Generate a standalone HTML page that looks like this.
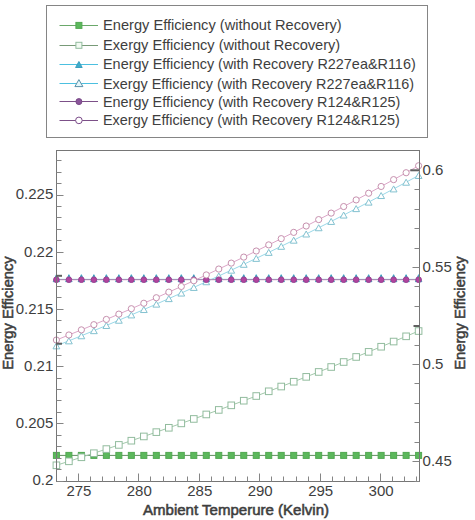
<!DOCTYPE html><html><head><meta charset="utf-8"><style>html,body{margin:0;padding:0;background:#fff;width:475px;height:520px;overflow:hidden}svg{display:block;font-family:"Liberation Sans",sans-serif}</style></head><body><svg width="475" height="520" viewBox="0 0 475 520">
<rect width="475" height="520" fill="#ffffff"/>
<polyline points="56.40,455.40 68.89,455.40 81.38,455.40 93.87,455.40 106.36,455.40 118.85,455.40 131.34,455.40 143.83,455.40 156.32,455.40 168.81,455.40 181.30,455.40 193.79,455.40 206.28,455.40 218.77,455.40 231.26,455.40 243.75,455.40 256.24,455.40 268.73,455.40 281.22,455.40 293.71,455.40 306.20,455.40 318.69,455.40 331.18,455.40 343.67,455.40 356.16,455.40 368.65,455.40 381.14,455.40 393.63,455.40 406.12,455.40 418.61,455.40" fill="none" stroke="#5f8f5f" stroke-width="1"/><rect x="53.40" y="452.40" width="6" height="6" fill="#5cb85c" stroke="#52a852" stroke-width="1"/><rect x="65.89" y="452.40" width="6" height="6" fill="#5cb85c" stroke="#52a852" stroke-width="1"/><rect x="78.38" y="452.40" width="6" height="6" fill="#5cb85c" stroke="#52a852" stroke-width="1"/><rect x="90.87" y="452.40" width="6" height="6" fill="#5cb85c" stroke="#52a852" stroke-width="1"/><rect x="103.36" y="452.40" width="6" height="6" fill="#5cb85c" stroke="#52a852" stroke-width="1"/><rect x="115.85" y="452.40" width="6" height="6" fill="#5cb85c" stroke="#52a852" stroke-width="1"/><rect x="128.34" y="452.40" width="6" height="6" fill="#5cb85c" stroke="#52a852" stroke-width="1"/><rect x="140.83" y="452.40" width="6" height="6" fill="#5cb85c" stroke="#52a852" stroke-width="1"/><rect x="153.32" y="452.40" width="6" height="6" fill="#5cb85c" stroke="#52a852" stroke-width="1"/><rect x="165.81" y="452.40" width="6" height="6" fill="#5cb85c" stroke="#52a852" stroke-width="1"/><rect x="178.30" y="452.40" width="6" height="6" fill="#5cb85c" stroke="#52a852" stroke-width="1"/><rect x="190.79" y="452.40" width="6" height="6" fill="#5cb85c" stroke="#52a852" stroke-width="1"/><rect x="203.28" y="452.40" width="6" height="6" fill="#5cb85c" stroke="#52a852" stroke-width="1"/><rect x="215.77" y="452.40" width="6" height="6" fill="#5cb85c" stroke="#52a852" stroke-width="1"/><rect x="228.26" y="452.40" width="6" height="6" fill="#5cb85c" stroke="#52a852" stroke-width="1"/><rect x="240.75" y="452.40" width="6" height="6" fill="#5cb85c" stroke="#52a852" stroke-width="1"/><rect x="253.24" y="452.40" width="6" height="6" fill="#5cb85c" stroke="#52a852" stroke-width="1"/><rect x="265.73" y="452.40" width="6" height="6" fill="#5cb85c" stroke="#52a852" stroke-width="1"/><rect x="278.22" y="452.40" width="6" height="6" fill="#5cb85c" stroke="#52a852" stroke-width="1"/><rect x="290.71" y="452.40" width="6" height="6" fill="#5cb85c" stroke="#52a852" stroke-width="1"/><rect x="303.20" y="452.40" width="6" height="6" fill="#5cb85c" stroke="#52a852" stroke-width="1"/><rect x="315.69" y="452.40" width="6" height="6" fill="#5cb85c" stroke="#52a852" stroke-width="1"/><rect x="328.18" y="452.40" width="6" height="6" fill="#5cb85c" stroke="#52a852" stroke-width="1"/><rect x="340.67" y="452.40" width="6" height="6" fill="#5cb85c" stroke="#52a852" stroke-width="1"/><rect x="353.16" y="452.40" width="6" height="6" fill="#5cb85c" stroke="#52a852" stroke-width="1"/><rect x="365.65" y="452.40" width="6" height="6" fill="#5cb85c" stroke="#52a852" stroke-width="1"/><rect x="378.14" y="452.40" width="6" height="6" fill="#5cb85c" stroke="#52a852" stroke-width="1"/><rect x="390.63" y="452.40" width="6" height="6" fill="#5cb85c" stroke="#52a852" stroke-width="1"/><rect x="403.12" y="452.40" width="6" height="6" fill="#5cb85c" stroke="#52a852" stroke-width="1"/><rect x="415.61" y="452.40" width="6" height="6" fill="#5cb85c" stroke="#52a852" stroke-width="1"/>
<polyline points="56.40,465.29 68.89,461.31 81.38,457.28 93.87,453.20 106.36,449.08 118.85,444.91 131.34,440.70 143.83,436.44 156.32,432.13 168.81,427.78 181.30,423.38 193.79,418.94 206.28,414.45 218.77,409.91 231.26,405.33 243.75,400.70 256.24,396.02 268.73,391.30 281.22,386.53 293.71,381.72 306.20,376.86 318.69,371.95 331.18,367.00 343.67,362.00 356.16,356.96 368.65,351.87 381.14,346.73 393.63,341.55 406.12,336.32 418.61,331.04" fill="none" stroke="#a2c8aa" stroke-width="1"/><rect x="53.10" y="461.99" width="6.6" height="6.6" fill="#ffffff" stroke="#92bc9e" stroke-width="1"/><rect x="65.59" y="458.01" width="6.6" height="6.6" fill="#ffffff" stroke="#92bc9e" stroke-width="1"/><rect x="78.08" y="453.98" width="6.6" height="6.6" fill="#ffffff" stroke="#92bc9e" stroke-width="1"/><rect x="90.57" y="449.90" width="6.6" height="6.6" fill="#ffffff" stroke="#92bc9e" stroke-width="1"/><rect x="103.06" y="445.78" width="6.6" height="6.6" fill="#ffffff" stroke="#92bc9e" stroke-width="1"/><rect x="115.55" y="441.61" width="6.6" height="6.6" fill="#ffffff" stroke="#92bc9e" stroke-width="1"/><rect x="128.04" y="437.40" width="6.6" height="6.6" fill="#ffffff" stroke="#92bc9e" stroke-width="1"/><rect x="140.53" y="433.14" width="6.6" height="6.6" fill="#ffffff" stroke="#92bc9e" stroke-width="1"/><rect x="153.02" y="428.83" width="6.6" height="6.6" fill="#ffffff" stroke="#92bc9e" stroke-width="1"/><rect x="165.51" y="424.48" width="6.6" height="6.6" fill="#ffffff" stroke="#92bc9e" stroke-width="1"/><rect x="178.00" y="420.08" width="6.6" height="6.6" fill="#ffffff" stroke="#92bc9e" stroke-width="1"/><rect x="190.49" y="415.64" width="6.6" height="6.6" fill="#ffffff" stroke="#92bc9e" stroke-width="1"/><rect x="202.98" y="411.15" width="6.6" height="6.6" fill="#ffffff" stroke="#92bc9e" stroke-width="1"/><rect x="215.47" y="406.61" width="6.6" height="6.6" fill="#ffffff" stroke="#92bc9e" stroke-width="1"/><rect x="227.96" y="402.03" width="6.6" height="6.6" fill="#ffffff" stroke="#92bc9e" stroke-width="1"/><rect x="240.45" y="397.40" width="6.6" height="6.6" fill="#ffffff" stroke="#92bc9e" stroke-width="1"/><rect x="252.94" y="392.72" width="6.6" height="6.6" fill="#ffffff" stroke="#92bc9e" stroke-width="1"/><rect x="265.43" y="388.00" width="6.6" height="6.6" fill="#ffffff" stroke="#92bc9e" stroke-width="1"/><rect x="277.92" y="383.23" width="6.6" height="6.6" fill="#ffffff" stroke="#92bc9e" stroke-width="1"/><rect x="290.41" y="378.42" width="6.6" height="6.6" fill="#ffffff" stroke="#92bc9e" stroke-width="1"/><rect x="302.90" y="373.56" width="6.6" height="6.6" fill="#ffffff" stroke="#92bc9e" stroke-width="1"/><rect x="315.39" y="368.65" width="6.6" height="6.6" fill="#ffffff" stroke="#92bc9e" stroke-width="1"/><rect x="327.88" y="363.70" width="6.6" height="6.6" fill="#ffffff" stroke="#92bc9e" stroke-width="1"/><rect x="340.37" y="358.70" width="6.6" height="6.6" fill="#ffffff" stroke="#92bc9e" stroke-width="1"/><rect x="352.86" y="353.66" width="6.6" height="6.6" fill="#ffffff" stroke="#92bc9e" stroke-width="1"/><rect x="365.35" y="348.57" width="6.6" height="6.6" fill="#ffffff" stroke="#92bc9e" stroke-width="1"/><rect x="377.84" y="343.43" width="6.6" height="6.6" fill="#ffffff" stroke="#92bc9e" stroke-width="1"/><rect x="390.33" y="338.25" width="6.6" height="6.6" fill="#ffffff" stroke="#92bc9e" stroke-width="1"/><rect x="402.82" y="333.02" width="6.6" height="6.6" fill="#ffffff" stroke="#92bc9e" stroke-width="1"/><rect x="415.31" y="327.74" width="6.6" height="6.6" fill="#ffffff" stroke="#92bc9e" stroke-width="1"/>
<polyline points="56.40,279.40 68.89,279.40 81.38,279.40 93.87,279.40 106.36,279.40 118.85,279.40 131.34,279.40 143.83,279.40 156.32,279.40 168.81,279.40 181.30,279.40 193.79,279.40 206.28,279.40 218.77,279.40 231.26,279.40 243.75,279.40 256.24,279.40 268.73,279.40 281.22,279.40 293.71,279.40 306.20,279.40 318.69,279.40 331.18,279.40 343.67,279.40 356.16,279.40 368.65,279.40 381.14,279.40 393.63,279.40 406.12,279.40 418.61,279.40" fill="none" stroke="#48b4d2" stroke-width="1"/><path d="M56.40,274.70 L59.60,281.70 L53.20,281.70 Z" fill="#40acca" stroke="#3a9fbf" stroke-width="1" stroke-linejoin="miter"/><path d="M68.89,274.70 L72.09,281.70 L65.69,281.70 Z" fill="#40acca" stroke="#3a9fbf" stroke-width="1" stroke-linejoin="miter"/><path d="M81.38,274.70 L84.58,281.70 L78.18,281.70 Z" fill="#40acca" stroke="#3a9fbf" stroke-width="1" stroke-linejoin="miter"/><path d="M93.87,274.70 L97.07,281.70 L90.67,281.70 Z" fill="#40acca" stroke="#3a9fbf" stroke-width="1" stroke-linejoin="miter"/><path d="M106.36,274.70 L109.56,281.70 L103.16,281.70 Z" fill="#40acca" stroke="#3a9fbf" stroke-width="1" stroke-linejoin="miter"/><path d="M118.85,274.70 L122.05,281.70 L115.65,281.70 Z" fill="#40acca" stroke="#3a9fbf" stroke-width="1" stroke-linejoin="miter"/><path d="M131.34,274.70 L134.54,281.70 L128.14,281.70 Z" fill="#40acca" stroke="#3a9fbf" stroke-width="1" stroke-linejoin="miter"/><path d="M143.83,274.70 L147.03,281.70 L140.63,281.70 Z" fill="#40acca" stroke="#3a9fbf" stroke-width="1" stroke-linejoin="miter"/><path d="M156.32,274.70 L159.52,281.70 L153.12,281.70 Z" fill="#40acca" stroke="#3a9fbf" stroke-width="1" stroke-linejoin="miter"/><path d="M168.81,274.70 L172.01,281.70 L165.61,281.70 Z" fill="#40acca" stroke="#3a9fbf" stroke-width="1" stroke-linejoin="miter"/><path d="M181.30,274.70 L184.50,281.70 L178.10,281.70 Z" fill="#40acca" stroke="#3a9fbf" stroke-width="1" stroke-linejoin="miter"/><path d="M193.79,274.70 L196.99,281.70 L190.59,281.70 Z" fill="#40acca" stroke="#3a9fbf" stroke-width="1" stroke-linejoin="miter"/><path d="M206.28,274.70 L209.48,281.70 L203.08,281.70 Z" fill="#40acca" stroke="#3a9fbf" stroke-width="1" stroke-linejoin="miter"/><path d="M218.77,274.70 L221.97,281.70 L215.57,281.70 Z" fill="#40acca" stroke="#3a9fbf" stroke-width="1" stroke-linejoin="miter"/><path d="M231.26,274.70 L234.46,281.70 L228.06,281.70 Z" fill="#40acca" stroke="#3a9fbf" stroke-width="1" stroke-linejoin="miter"/><path d="M243.75,274.70 L246.95,281.70 L240.55,281.70 Z" fill="#40acca" stroke="#3a9fbf" stroke-width="1" stroke-linejoin="miter"/><path d="M256.24,274.70 L259.44,281.70 L253.04,281.70 Z" fill="#40acca" stroke="#3a9fbf" stroke-width="1" stroke-linejoin="miter"/><path d="M268.73,274.70 L271.93,281.70 L265.53,281.70 Z" fill="#40acca" stroke="#3a9fbf" stroke-width="1" stroke-linejoin="miter"/><path d="M281.22,274.70 L284.42,281.70 L278.02,281.70 Z" fill="#40acca" stroke="#3a9fbf" stroke-width="1" stroke-linejoin="miter"/><path d="M293.71,274.70 L296.91,281.70 L290.51,281.70 Z" fill="#40acca" stroke="#3a9fbf" stroke-width="1" stroke-linejoin="miter"/><path d="M306.20,274.70 L309.40,281.70 L303.00,281.70 Z" fill="#40acca" stroke="#3a9fbf" stroke-width="1" stroke-linejoin="miter"/><path d="M318.69,274.70 L321.89,281.70 L315.49,281.70 Z" fill="#40acca" stroke="#3a9fbf" stroke-width="1" stroke-linejoin="miter"/><path d="M331.18,274.70 L334.38,281.70 L327.98,281.70 Z" fill="#40acca" stroke="#3a9fbf" stroke-width="1" stroke-linejoin="miter"/><path d="M343.67,274.70 L346.87,281.70 L340.47,281.70 Z" fill="#40acca" stroke="#3a9fbf" stroke-width="1" stroke-linejoin="miter"/><path d="M356.16,274.70 L359.36,281.70 L352.96,281.70 Z" fill="#40acca" stroke="#3a9fbf" stroke-width="1" stroke-linejoin="miter"/><path d="M368.65,274.70 L371.85,281.70 L365.45,281.70 Z" fill="#40acca" stroke="#3a9fbf" stroke-width="1" stroke-linejoin="miter"/><path d="M381.14,274.70 L384.34,281.70 L377.94,281.70 Z" fill="#40acca" stroke="#3a9fbf" stroke-width="1" stroke-linejoin="miter"/><path d="M393.63,274.70 L396.83,281.70 L390.43,281.70 Z" fill="#40acca" stroke="#3a9fbf" stroke-width="1" stroke-linejoin="miter"/><path d="M406.12,274.70 L409.32,281.70 L402.92,281.70 Z" fill="#40acca" stroke="#3a9fbf" stroke-width="1" stroke-linejoin="miter"/><path d="M418.61,274.70 L421.81,281.70 L415.41,281.70 Z" fill="#40acca" stroke="#3a9fbf" stroke-width="1" stroke-linejoin="miter"/>
<polyline points="56.40,345.83 68.89,340.84 81.38,335.78 93.87,330.66 106.36,325.47 118.85,320.23 131.34,314.92 143.83,309.54 156.32,304.11 168.81,298.61 181.30,293.05 193.79,287.43 206.28,281.74 218.77,275.99 231.26,270.18 243.75,264.31 256.24,258.37 268.73,252.37 281.22,246.31 293.71,240.18 306.20,233.99 318.69,227.74 331.18,221.43 343.67,215.05 356.16,208.61 368.65,202.11 381.14,195.54 393.63,188.92 406.12,182.23 418.61,175.47" fill="none" stroke="#9ad8e8" stroke-width="1"/><path d="M56.40,342.83 L59.80,348.83 L53.00,348.83 Z" fill="#ffffff" stroke="#84c2d0" stroke-width="1" stroke-linejoin="miter"/><path d="M68.89,337.84 L72.29,343.84 L65.49,343.84 Z" fill="#ffffff" stroke="#84c2d0" stroke-width="1" stroke-linejoin="miter"/><path d="M81.38,332.78 L84.78,338.78 L77.98,338.78 Z" fill="#ffffff" stroke="#84c2d0" stroke-width="1" stroke-linejoin="miter"/><path d="M93.87,327.66 L97.27,333.66 L90.47,333.66 Z" fill="#ffffff" stroke="#84c2d0" stroke-width="1" stroke-linejoin="miter"/><path d="M106.36,322.47 L109.76,328.47 L102.96,328.47 Z" fill="#ffffff" stroke="#84c2d0" stroke-width="1" stroke-linejoin="miter"/><path d="M118.85,317.23 L122.25,323.23 L115.45,323.23 Z" fill="#ffffff" stroke="#84c2d0" stroke-width="1" stroke-linejoin="miter"/><path d="M131.34,311.92 L134.74,317.92 L127.94,317.92 Z" fill="#ffffff" stroke="#84c2d0" stroke-width="1" stroke-linejoin="miter"/><path d="M143.83,306.54 L147.23,312.54 L140.43,312.54 Z" fill="#ffffff" stroke="#84c2d0" stroke-width="1" stroke-linejoin="miter"/><path d="M156.32,301.11 L159.72,307.11 L152.92,307.11 Z" fill="#ffffff" stroke="#84c2d0" stroke-width="1" stroke-linejoin="miter"/><path d="M168.81,295.61 L172.21,301.61 L165.41,301.61 Z" fill="#ffffff" stroke="#84c2d0" stroke-width="1" stroke-linejoin="miter"/><path d="M181.30,290.05 L184.70,296.05 L177.90,296.05 Z" fill="#ffffff" stroke="#84c2d0" stroke-width="1" stroke-linejoin="miter"/><path d="M193.79,284.43 L197.19,290.43 L190.39,290.43 Z" fill="#ffffff" stroke="#84c2d0" stroke-width="1" stroke-linejoin="miter"/><path d="M206.28,278.74 L209.68,284.74 L202.88,284.74 Z" fill="#ffffff" stroke="#84c2d0" stroke-width="1" stroke-linejoin="miter"/><path d="M218.77,272.99 L222.17,278.99 L215.37,278.99 Z" fill="#ffffff" stroke="#84c2d0" stroke-width="1" stroke-linejoin="miter"/><path d="M231.26,267.18 L234.66,273.18 L227.86,273.18 Z" fill="#ffffff" stroke="#84c2d0" stroke-width="1" stroke-linejoin="miter"/><path d="M243.75,261.31 L247.15,267.31 L240.35,267.31 Z" fill="#ffffff" stroke="#84c2d0" stroke-width="1" stroke-linejoin="miter"/><path d="M256.24,255.37 L259.64,261.37 L252.84,261.37 Z" fill="#ffffff" stroke="#84c2d0" stroke-width="1" stroke-linejoin="miter"/><path d="M268.73,249.37 L272.13,255.37 L265.33,255.37 Z" fill="#ffffff" stroke="#84c2d0" stroke-width="1" stroke-linejoin="miter"/><path d="M281.22,243.31 L284.62,249.31 L277.82,249.31 Z" fill="#ffffff" stroke="#84c2d0" stroke-width="1" stroke-linejoin="miter"/><path d="M293.71,237.18 L297.11,243.18 L290.31,243.18 Z" fill="#ffffff" stroke="#84c2d0" stroke-width="1" stroke-linejoin="miter"/><path d="M306.20,230.99 L309.60,236.99 L302.80,236.99 Z" fill="#ffffff" stroke="#84c2d0" stroke-width="1" stroke-linejoin="miter"/><path d="M318.69,224.74 L322.09,230.74 L315.29,230.74 Z" fill="#ffffff" stroke="#84c2d0" stroke-width="1" stroke-linejoin="miter"/><path d="M331.18,218.43 L334.58,224.43 L327.78,224.43 Z" fill="#ffffff" stroke="#84c2d0" stroke-width="1" stroke-linejoin="miter"/><path d="M343.67,212.05 L347.07,218.05 L340.27,218.05 Z" fill="#ffffff" stroke="#84c2d0" stroke-width="1" stroke-linejoin="miter"/><path d="M356.16,205.61 L359.56,211.61 L352.76,211.61 Z" fill="#ffffff" stroke="#84c2d0" stroke-width="1" stroke-linejoin="miter"/><path d="M368.65,199.11 L372.05,205.11 L365.25,205.11 Z" fill="#ffffff" stroke="#84c2d0" stroke-width="1" stroke-linejoin="miter"/><path d="M381.14,192.54 L384.54,198.54 L377.74,198.54 Z" fill="#ffffff" stroke="#84c2d0" stroke-width="1" stroke-linejoin="miter"/><path d="M393.63,185.92 L397.03,191.92 L390.23,191.92 Z" fill="#ffffff" stroke="#84c2d0" stroke-width="1" stroke-linejoin="miter"/><path d="M406.12,179.23 L409.52,185.23 L402.72,185.23 Z" fill="#ffffff" stroke="#84c2d0" stroke-width="1" stroke-linejoin="miter"/><path d="M418.61,172.47 L422.01,178.47 L415.21,178.47 Z" fill="#ffffff" stroke="#84c2d0" stroke-width="1" stroke-linejoin="miter"/>
<polyline points="56.40,279.70 68.89,279.70 81.38,279.70 93.87,279.70 106.36,279.70 118.85,279.70 131.34,279.70 143.83,279.70 156.32,279.70 168.81,279.70 181.30,279.70 193.79,279.70 206.28,279.70 218.77,279.70 231.26,279.70 243.75,279.70 256.24,279.70 268.73,279.70 281.22,279.70 293.71,279.70 306.20,279.70 318.69,279.70 331.18,279.70 343.67,279.70 356.16,279.70 368.65,279.70 381.14,279.70 393.63,279.70 406.12,279.70 418.61,279.70" fill="none" stroke="#b884ae" stroke-width="1"/><circle cx="56.40" cy="279.70" r="2.8" fill="#b0449f" stroke="#9a4090" stroke-width="1"/><circle cx="68.89" cy="279.70" r="2.8" fill="#b0449f" stroke="#9a4090" stroke-width="1"/><circle cx="81.38" cy="279.70" r="2.8" fill="#b0449f" stroke="#9a4090" stroke-width="1"/><circle cx="93.87" cy="279.70" r="2.8" fill="#b0449f" stroke="#9a4090" stroke-width="1"/><circle cx="106.36" cy="279.70" r="2.8" fill="#b0449f" stroke="#9a4090" stroke-width="1"/><circle cx="118.85" cy="279.70" r="2.8" fill="#b0449f" stroke="#9a4090" stroke-width="1"/><circle cx="131.34" cy="279.70" r="2.8" fill="#b0449f" stroke="#9a4090" stroke-width="1"/><circle cx="143.83" cy="279.70" r="2.8" fill="#b0449f" stroke="#9a4090" stroke-width="1"/><circle cx="156.32" cy="279.70" r="2.8" fill="#b0449f" stroke="#9a4090" stroke-width="1"/><circle cx="168.81" cy="279.70" r="2.8" fill="#b0449f" stroke="#9a4090" stroke-width="1"/><circle cx="181.30" cy="279.70" r="2.8" fill="#b0449f" stroke="#9a4090" stroke-width="1"/><circle cx="193.79" cy="279.70" r="2.8" fill="#b0449f" stroke="#9a4090" stroke-width="1"/><circle cx="206.28" cy="279.70" r="2.8" fill="#b0449f" stroke="#9a4090" stroke-width="1"/><circle cx="218.77" cy="279.70" r="2.8" fill="#b0449f" stroke="#9a4090" stroke-width="1"/><circle cx="231.26" cy="279.70" r="2.8" fill="#b0449f" stroke="#9a4090" stroke-width="1"/><circle cx="243.75" cy="279.70" r="2.8" fill="#b0449f" stroke="#9a4090" stroke-width="1"/><circle cx="256.24" cy="279.70" r="2.8" fill="#b0449f" stroke="#9a4090" stroke-width="1"/><circle cx="268.73" cy="279.70" r="2.8" fill="#b0449f" stroke="#9a4090" stroke-width="1"/><circle cx="281.22" cy="279.70" r="2.8" fill="#b0449f" stroke="#9a4090" stroke-width="1"/><circle cx="293.71" cy="279.70" r="2.8" fill="#b0449f" stroke="#9a4090" stroke-width="1"/><circle cx="306.20" cy="279.70" r="2.8" fill="#b0449f" stroke="#9a4090" stroke-width="1"/><circle cx="318.69" cy="279.70" r="2.8" fill="#b0449f" stroke="#9a4090" stroke-width="1"/><circle cx="331.18" cy="279.70" r="2.8" fill="#b0449f" stroke="#9a4090" stroke-width="1"/><circle cx="343.67" cy="279.70" r="2.8" fill="#b0449f" stroke="#9a4090" stroke-width="1"/><circle cx="356.16" cy="279.70" r="2.8" fill="#b0449f" stroke="#9a4090" stroke-width="1"/><circle cx="368.65" cy="279.70" r="2.8" fill="#b0449f" stroke="#9a4090" stroke-width="1"/><circle cx="381.14" cy="279.70" r="2.8" fill="#b0449f" stroke="#9a4090" stroke-width="1"/><circle cx="393.63" cy="279.70" r="2.8" fill="#b0449f" stroke="#9a4090" stroke-width="1"/><circle cx="406.12" cy="279.70" r="2.8" fill="#b0449f" stroke="#9a4090" stroke-width="1"/><circle cx="418.61" cy="279.70" r="2.8" fill="#b0449f" stroke="#9a4090" stroke-width="1"/>
<polyline points="56.40,340.03 68.89,334.98 81.38,329.87 93.87,324.68 106.36,319.43 118.85,314.11 131.34,308.71 143.83,303.25 156.32,297.73 168.81,292.13 181.30,286.46 193.79,280.73 206.28,274.92 218.77,269.05 231.26,263.11 243.75,257.10 256.24,251.02 268.73,244.88 281.22,238.66 293.71,232.38 306.20,226.02 318.69,219.60 331.18,213.11 343.67,206.55 356.16,199.93 368.65,193.23 381.14,186.46 393.63,179.63 406.12,172.73 418.61,165.76" fill="none" stroke="#dca6c8" stroke-width="1"/><circle cx="56.40" cy="340.03" r="3.1" fill="#ffffff" stroke="#c690ae" stroke-width="1"/><circle cx="68.89" cy="334.98" r="3.1" fill="#ffffff" stroke="#c690ae" stroke-width="1"/><circle cx="81.38" cy="329.87" r="3.1" fill="#ffffff" stroke="#c690ae" stroke-width="1"/><circle cx="93.87" cy="324.68" r="3.1" fill="#ffffff" stroke="#c690ae" stroke-width="1"/><circle cx="106.36" cy="319.43" r="3.1" fill="#ffffff" stroke="#c690ae" stroke-width="1"/><circle cx="118.85" cy="314.11" r="3.1" fill="#ffffff" stroke="#c690ae" stroke-width="1"/><circle cx="131.34" cy="308.71" r="3.1" fill="#ffffff" stroke="#c690ae" stroke-width="1"/><circle cx="143.83" cy="303.25" r="3.1" fill="#ffffff" stroke="#c690ae" stroke-width="1"/><circle cx="156.32" cy="297.73" r="3.1" fill="#ffffff" stroke="#c690ae" stroke-width="1"/><circle cx="168.81" cy="292.13" r="3.1" fill="#ffffff" stroke="#c690ae" stroke-width="1"/><circle cx="181.30" cy="286.46" r="3.1" fill="#ffffff" stroke="#c690ae" stroke-width="1"/><circle cx="193.79" cy="280.73" r="3.1" fill="#ffffff" stroke="#c690ae" stroke-width="1"/><circle cx="206.28" cy="274.92" r="3.1" fill="#ffffff" stroke="#c690ae" stroke-width="1"/><circle cx="218.77" cy="269.05" r="3.1" fill="#ffffff" stroke="#c690ae" stroke-width="1"/><circle cx="231.26" cy="263.11" r="3.1" fill="#ffffff" stroke="#c690ae" stroke-width="1"/><circle cx="243.75" cy="257.10" r="3.1" fill="#ffffff" stroke="#c690ae" stroke-width="1"/><circle cx="256.24" cy="251.02" r="3.1" fill="#ffffff" stroke="#c690ae" stroke-width="1"/><circle cx="268.73" cy="244.88" r="3.1" fill="#ffffff" stroke="#c690ae" stroke-width="1"/><circle cx="281.22" cy="238.66" r="3.1" fill="#ffffff" stroke="#c690ae" stroke-width="1"/><circle cx="293.71" cy="232.38" r="3.1" fill="#ffffff" stroke="#c690ae" stroke-width="1"/><circle cx="306.20" cy="226.02" r="3.1" fill="#ffffff" stroke="#c690ae" stroke-width="1"/><circle cx="318.69" cy="219.60" r="3.1" fill="#ffffff" stroke="#c690ae" stroke-width="1"/><circle cx="331.18" cy="213.11" r="3.1" fill="#ffffff" stroke="#c690ae" stroke-width="1"/><circle cx="343.67" cy="206.55" r="3.1" fill="#ffffff" stroke="#c690ae" stroke-width="1"/><circle cx="356.16" cy="199.93" r="3.1" fill="#ffffff" stroke="#c690ae" stroke-width="1"/><circle cx="368.65" cy="193.23" r="3.1" fill="#ffffff" stroke="#c690ae" stroke-width="1"/><circle cx="381.14" cy="186.46" r="3.1" fill="#ffffff" stroke="#c690ae" stroke-width="1"/><circle cx="393.63" cy="179.63" r="3.1" fill="#ffffff" stroke="#c690ae" stroke-width="1"/><circle cx="406.12" cy="172.73" r="3.1" fill="#ffffff" stroke="#c690ae" stroke-width="1"/><circle cx="418.61" cy="165.76" r="3.1" fill="#ffffff" stroke="#c690ae" stroke-width="1"/>
<rect x="56.5" y="150.5" width="363.0" height="331.0" fill="none" stroke="#767676" stroke-width="1"/>
<path d="M66.5,481.5 V476.5 M78.5,481.5 V473.5 M90.5,481.5 V476.5 M102.5,481.5 V476.5 M114.5,481.5 V476.5 M126.5,481.5 V476.5 M138.5,481.5 V473.5 M150.5,481.5 V476.5 M163.5,481.5 V476.5 M175.5,481.5 V476.5 M187.5,481.5 V476.5 M199.5,481.5 V473.5 M211.5,481.5 V476.5 M223.5,481.5 V476.5 M235.5,481.5 V476.5 M247.5,481.5 V476.5 M259.5,481.5 V473.5 M271.5,481.5 V476.5 M283.5,481.5 V476.5 M296.5,481.5 V476.5 M308.5,481.5 V476.5 M320.5,481.5 V473.5 M332.5,481.5 V476.5 M344.5,481.5 V476.5 M356.5,481.5 V476.5 M368.5,481.5 V476.5 M380.5,481.5 V473.5 M392.5,481.5 V476.5 M404.5,481.5 V476.5 M416.5,481.5 V476.5 M56.5,481.5 H63.5 M56.5,469.5 H61.5 M56.5,458.5 H61.5 M56.5,446.5 H61.5 M56.5,435.5 H61.5 M56.5,423.5 H63.5 M56.5,412.5 H61.5 M56.5,400.5 H61.5 M56.5,389.5 H61.5 M56.5,378.5 H61.5 M56.5,366.5 H63.5 M56.5,355.5 H61.5 M56.5,343.5 H61.5 M56.5,332.5 H61.5 M56.5,320.5 H61.5 M56.5,309.5 H63.5 M56.5,297.5 H61.5 M56.5,286.5 H61.5 M56.5,275.5 H61.5 M56.5,263.5 H61.5 M56.5,252.5 H63.5 M56.5,240.5 H61.5 M56.5,229.5 H61.5 M56.5,217.5 H61.5 M56.5,206.5 H61.5 M56.5,195.5 H63.5 M56.5,183.5 H61.5 M56.5,172.5 H61.5 M56.5,160.5 H61.5 M419.5,481.5 H414.5 M419.5,461.5 H412.5 M419.5,442.5 H414.5 M419.5,422.5 H414.5 M419.5,403.5 H414.5 M419.5,383.5 H414.5 M419.5,364.5 H412.5 M419.5,345.5 H414.5 M419.5,325.5 H414.5 M419.5,306.5 H414.5 M419.5,286.5 H414.5 M419.5,267.5 H412.5 M419.5,248.5 H414.5 M419.5,228.5 H414.5 M419.5,209.5 H414.5 M419.5,189.5 H414.5 M419.5,170.5 H412.5" stroke="#858585" stroke-width="1" fill="none"/>
<g fill="#606060"><rect x="56" y="342.7" width="6" height="2"/><rect x="56" y="274.8" width="6" height="2"/><rect x="410.3" y="169.3" width="9" height="2"/><rect x="413.5" y="325" width="6" height="2"/></g>
<g font-family="Liberation Sans, sans-serif" font-size="15" fill="#3e3e3e"><text x="53.3" y="485.3" text-anchor="end">0.2</text><text x="53.3" y="428.1" text-anchor="end">0.205</text><text x="53.3" y="370.9" text-anchor="end">0.21</text><text x="53.3" y="313.7" text-anchor="end">0.215</text><text x="53.3" y="256.5" text-anchor="end">0.22</text><text x="53.3" y="199.3" text-anchor="end">0.225</text><text x="422.6" y="465.9">0.45</text><text x="422.6" y="368.8">0.5</text><text x="422.6" y="271.8">0.55</text><text x="422.6" y="174.7">0.6</text><text x="78.9" y="496" text-anchor="middle">275</text><text x="139.3" y="496" text-anchor="middle">280</text><text x="199.8" y="496" text-anchor="middle">285</text><text x="260.2" y="496" text-anchor="middle">290</text><text x="320.7" y="496" text-anchor="middle">295</text><text x="381.1" y="496" text-anchor="middle">300</text></g>
<g font-family="Liberation Sans, sans-serif" font-weight="normal" fill="#3e3e3e" stroke="#3e3e3e" stroke-width="0.55">
<text x="236" y="514.7" font-size="14.6" textLength="186" lengthAdjust="spacingAndGlyphs" text-anchor="middle">Ambient Temperure (Kelvin)</text>
<text transform="translate(12.8,313) rotate(-90)" font-size="14.8" textLength="113.5" lengthAdjust="spacingAndGlyphs" text-anchor="middle">Energy Efficiency</text>
<text transform="translate(465,313) rotate(-90)" font-size="14.8" textLength="113.5" lengthAdjust="spacingAndGlyphs" text-anchor="middle">Energy Efficiency</text>
</g>
<rect x="46.5" y="5.5" width="381" height="132" fill="#ffffff" stroke="#858585" stroke-width="1"/>
<path d="M59.5,25.5 H98" stroke="#6aa86a" stroke-width="1"/><rect x="75.90" y="22.40" width="6" height="6" fill="#5cb85c" stroke="#52a852" stroke-width="1"/><text x="103" y="29.8" font-family="Liberation Sans, sans-serif" font-size="15" textLength="238.7" lengthAdjust="spacingAndGlyphs" fill="#3e3e3e">Energy Efficiency (without Recovery)</text><path d="M59.5,45.5 H98" stroke="#789a78" stroke-width="1"/><rect x="75.90" y="42.30" width="6" height="6" fill="#f2faf2" stroke="#92bc9e" stroke-width="1"/><text x="103" y="49.8" font-family="Liberation Sans, sans-serif" font-size="15" textLength="237.2" lengthAdjust="spacingAndGlyphs" fill="#3e3e3e">Exergy Efficiency (without Recovery)</text><path d="M59.5,64.5 H98" stroke="#4cc0e0" stroke-width="1"/><path d="M78.90,61.50 L82.20,67.50 L75.60,67.50 Z" fill="#40acca" stroke="#3a9fbf" stroke-width="1" stroke-linejoin="miter"/><text x="103" y="69.4" font-family="Liberation Sans, sans-serif" font-size="15" textLength="312.7" lengthAdjust="spacingAndGlyphs" fill="#3e3e3e">Energy Efficiency (with Recovery R227ea&amp;R116)</text><path d="M59.5,83.5 H98" stroke="#4cc0e0" stroke-width="1"/><path d="M78.90,79.60 L82.90,86.60 L74.90,86.60 Z" fill="#e4f7fb" stroke="#5a90a8" stroke-width="1" stroke-linejoin="miter"/><text x="103" y="88.7" font-family="Liberation Sans, sans-serif" font-size="15" textLength="311.1" lengthAdjust="spacingAndGlyphs" fill="#3e3e3e">Exergy Efficiency (with Recovery R227ea&amp;R116)</text><path d="M59.5,101.5 H98" stroke="#7c5088" stroke-width="1"/><circle cx="78.90" cy="101.60" r="3" fill="#8a559a" stroke="#7a4a88" stroke-width="1"/><text x="103" y="106.9" font-family="Liberation Sans, sans-serif" font-size="15" textLength="297.3" lengthAdjust="spacingAndGlyphs" fill="#3e3e3e">Energy Efficiency (with Recovery R124&amp;R125)</text><path d="M59.5,120.5 H98" stroke="#7c5088" stroke-width="1"/><circle cx="78.90" cy="120.40" r="3.3" fill="#ffffff" stroke="#7a4a88" stroke-width="1"/><text x="103" y="125.2" font-family="Liberation Sans, sans-serif" font-size="15" textLength="296.9" lengthAdjust="spacingAndGlyphs" fill="#3e3e3e">Exergy Efficiency (with Recovery R124&amp;R125)</text>
</svg></body></html>
